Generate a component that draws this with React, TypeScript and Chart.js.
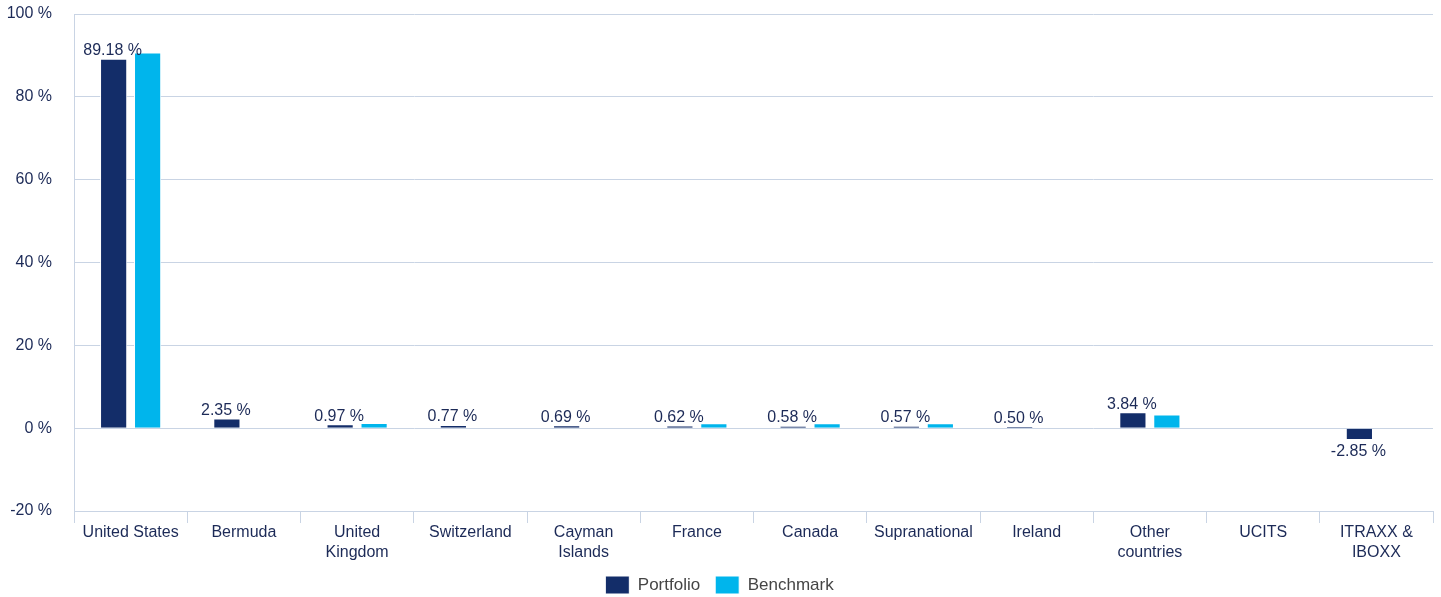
import React, { useEffect, useRef } from "react";
import { Chart, registerables } from "chart.js";

Chart.register(...registerables);

const categories: (string | string[])[] = [
  "United States",
  "Bermuda",
  ["United", "Kingdom"],
  "Switzerland",
  ["Cayman", "Islands"],
  "France",
  "Canada",
  "Supranational",
  "Ireland",
  ["Other", "countries"],
  "UCITS",
  ["ITRAXX &", "IBOXX"],
];

const portfolioValues = [89.18, 2.35, 0.97, 0.77, 0.69, 0.62, 0.58, 0.57, 0.5, 3.84, 0, -2.85];
const benchmarkValues = [90.7, 0, 1.25, 0, 0, 1.2, 1.2, 1.2, 0, 3.3, 0, 0];
const showPortfolioLabel = [true, true, true, true, true, true, true, true, true, true, false, true];

const yMin = -20;
const yMax = 100;
const yStep = 20;

const NAVY = "#132d69";
const CYAN = "#00b5ec";
const TEXT = "#1c2a57";
const GRID = "#c9d4e4";
const FONT = "'Liberation Sans', Arial, Helvetica, sans-serif";

const labelPlugin = {
  id: "valueLabels",
  afterDatasetsDraw(chart: any) {
    const ctx = chart.ctx;
    const meta = chart.getDatasetMeta(0);
    ctx.save();
    ctx.font = `16px ${FONT}`;
    ctx.fillStyle = TEXT;
    ctx.textAlign = "center";
    ctx.textBaseline = "middle";
    meta.data.forEach((bar: any, i: number) => {
      if (!showPortfolioLabel[i]) return;
      const v = portfolioValues[i];
      const txt = v.toFixed(2) + " %";
      const y = v >= 0 ? bar.y - 8 : bar.y + 12;
      ctx.fillText(txt, bar.x - 1, y);
    });
    ctx.restore();
  },
};

export default function App() {
  const canvasRef = useRef<HTMLCanvasElement | null>(null);

  useEffect(() => {
    if (!canvasRef.current) return;
    const chart = new Chart(canvasRef.current, {
      type: "bar",
      data: {
        labels: categories,
        datasets: [
          {
            label: "Portfolio",
            data: portfolioValues,
            backgroundColor: NAVY,
            borderColor: "#ffffff",
            borderWidth: 1,
            categoryPercentage: 0.6,
            barPercentage: 0.8,
          },
          {
            label: "Benchmark",
            data: benchmarkValues,
            backgroundColor: CYAN,
            borderColor: "#ffffff",
            borderWidth: 1,
            categoryPercentage: 0.6,
            barPercentage: 0.8,
          },
        ],
      },
      options: {
        responsive: false,
        animation: false,
        layout: { padding: { left: 6, right: 8, top: 14, bottom: -7 } },
        plugins: {
          tooltip: { enabled: false },
          legend: {
            position: "bottom",
            labels: {
              boxWidth: 24,
              boxHeight: 18,
              padding: 15,
              color: "#454545",
              font: { family: FONT, size: 17 },
            },
          },
        },
        scales: {
          x: {
            afterFit: (s: any) => {
              s.height = 50;
            },
            grid: {
              color: GRID,
              drawOnChartArea: false,
              drawTicks: true,
              tickLength: 12,
              offset: true,
            },
            border: { color: GRID },
            ticks: {
              color: TEXT,
              font: { family: FONT, size: 16, lineHeight: 1.25 },
              padding: 0,
              maxRotation: 0,
              autoSkip: false,
            },
          },
          y: {
            min: yMin,
            max: yMax,
            afterFit: (s: any) => {
              s.width = 68;
            },
            grid: { color: GRID, drawTicks: true, tickLength: 22, tickColor: "rgba(0,0,0,0)" },
            border: { color: GRID },
            ticks: {
              stepSize: yStep,
              color: TEXT,
              padding: 0,
              font: { family: FONT, size: 16 },
              callback: (v: any) => `${v} %`,
            },
          },
        },
      },
      plugins: [labelPlugin],
    } as any);
    return () => chart.destroy();
  }, []);

  return (
    <div style={{ position: "fixed", left: 0, top: 0, width: 1441, height: 597, background: "#fff" }}>
      <canvas ref={canvasRef} width={1441} height={597} />
    </div>
  );
}
